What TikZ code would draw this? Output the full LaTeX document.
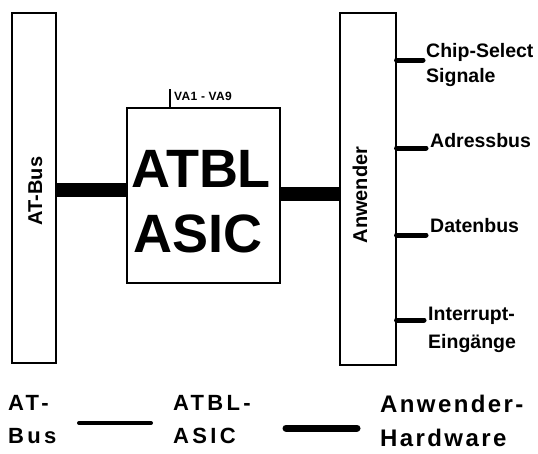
\documentclass[tikz,border=0pt]{standalone}
\usepackage{fontspec}
\setmainfont{Liberation Sans}
\begin{document}
\begin{tikzpicture}[x=1pt,y=-1pt,
  box/.style={draw,line width=1.1pt,inner sep=0pt},
  boxlbl/.style={font=\bfseries\fontsize{20}{24}\selectfont,inner sep=0pt,rotate=90,anchor=base},
  big/.style={font=\bfseries\fontsize{54}{60}\selectfont,inner sep=0pt,anchor=base},
  bus/.style={line width=14pt},
  stub/.style={line width=5pt,line cap=round},
  side/.style={font=\bfseries\fontsize{19.5}{25}\selectfont,align=left,inner sep=0pt,anchor=north west},
  leg/.style={font=\bfseries\fontsize{22}{33}\selectfont\addfontfeatures{LetterSpace=15},align=left,inner sep=0pt,anchor=north west},
  legbig/.style={font=\bfseries\fontsize{24}{34}\selectfont\addfontfeatures{LetterSpace=10},align=left,inner sep=0pt,anchor=north west}]
\useasboundingbox (0,0) rectangle (538,453);
% boxes
\node[box,minimum width=44pt,minimum height=350pt] (atbus) at (34,188) {};
\node[boxlbl] (atbuslbl) at (42,191) {AT-Bus};
\node[box,minimum width=153pt,minimum height=175pt] (asic) at (203.5,195.5) {};
\node[big] (asic1) at (201,187) {ATBL};
\node[big] (asic2) at (198,252) {ASIC};
\node[box,minimum width=56pt,minimum height=352pt] (anw) at (368,189) {};
\node[boxlbl] (anwlbl) at (367,195) {Anwender};
% buses
\draw[bus] (atbus.east |- 0,190) -- (asic.west |- 0,190);
\draw[bus] (asic.east |- 0,193.5) -- (anw.west |- 0,193.5);
% VA tick
\coordinate (vatop) at (170,89);
\draw[line width=2.5pt] (vatop) -- (vatop |- asic.north);
\node[font=\bfseries\fontsize{12}{14}\selectfont\addfontfeatures{LetterSpace=3},inner sep=0pt,anchor=base west] (valbl) at (174,100.5) {VA1 - VA9};
% stubs
\coordinate (cse) at (423,60);
\coordinate (ade) at (426,148);
\coordinate (dbe) at (426,235);
\coordinate (ire) at (424,320);
\draw[stub] (anw.east |- cse) -- (cse);
\draw[stub] (anw.east |- ade) -- (ade);
\draw[stub] (anw.east |- dbe) -- (dbe);
\draw[stub] (anw.east |- ire) -- (ire);
\node[side] (cslbl) at (426,43) {Chip-Select\\Signale};
\node[side] (adlbl) at (430,133) {Adressbus};
\node[side] (dblbl) at (430,218) {Datenbus};
\node[side,font=\bfseries\fontsize{19.5}{28}\selectfont] (irlbl) at (428,307) {Interrupt-\\Eingänge};
% legend
\node[leg] (leg1) at (8,395) {AT-\\Bus};
\node[leg] (leg2) at (173,395) {ATBL-\\ASIC};
\node[legbig] (leg3) at (380,395) {Anwender-\\Hardware};
\coordinate (la) at (79,423);
\coordinate (lb) at (151,423);
\coordinate (lc) at (286,428);
\coordinate (ld) at (357,428);
\draw[line width=4pt,line cap=round] (la) -- (lb);
\draw[line width=7pt,line cap=round] (lc) -- (ld);
\end{tikzpicture}
\end{document}
